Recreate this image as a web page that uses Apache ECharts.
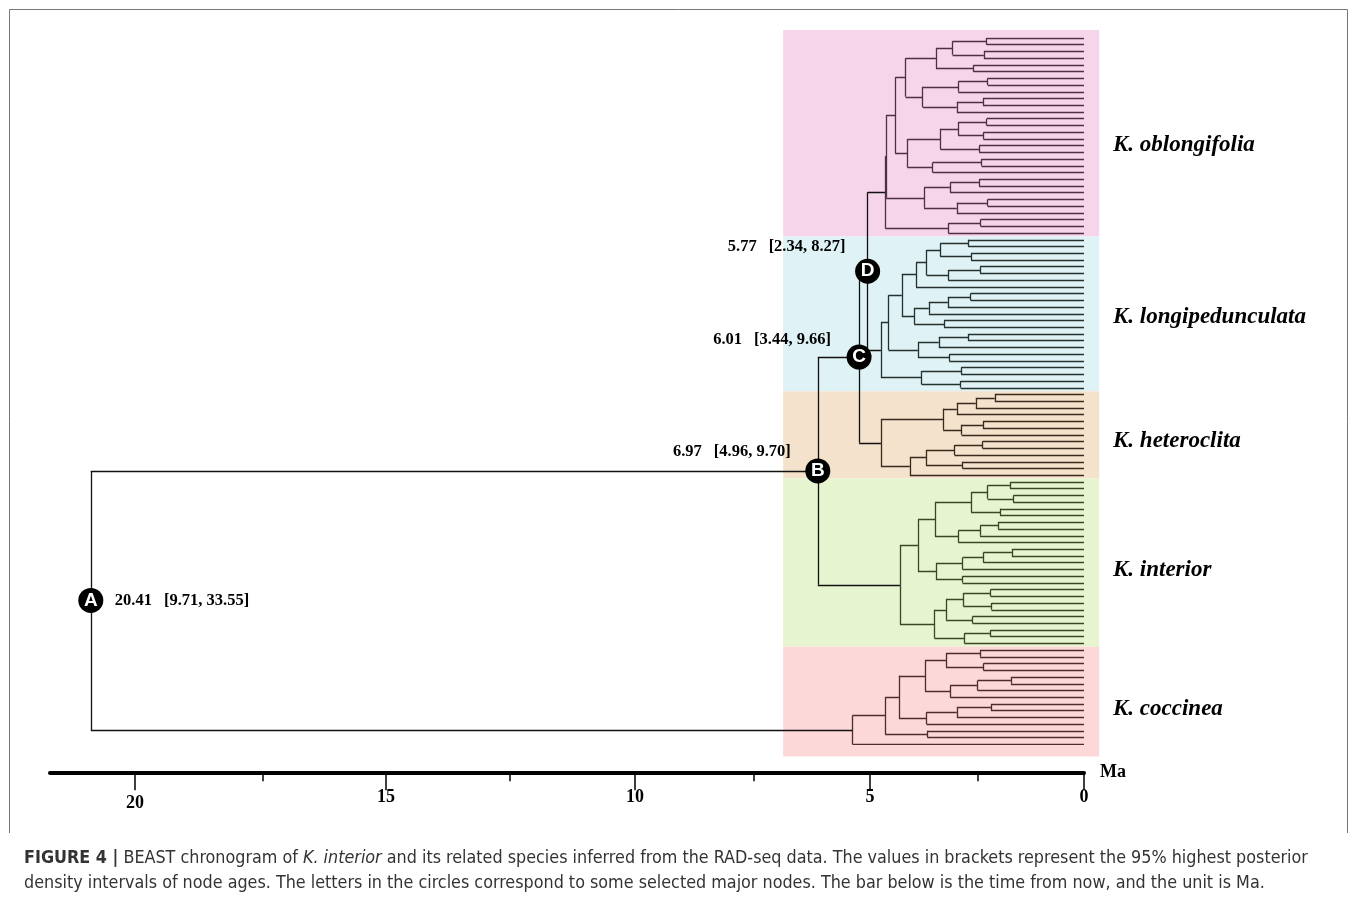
<!DOCTYPE html>
<html><head><meta charset="utf-8">
<script src="https://cdn.jsdelivr.net/npm/echarts@6/dist/echarts.min.js"></script>
<style>html,body{margin:0;padding:0;background:#fff}#c{width:1358px;height:897px}</style>
</head><body><div id="c"></div>
<script>
// ================= DATA =================
const cladeNames = ['K. oblongifolia', 'K. longipedunculata', 'K. heteroclita', 'K. interior', 'K. coccinea'];

// Trees as nested arrays: [nodeAge (Ma), child, child]; a 0 is a tip (age 0)
const oblongifoliaTree =
  [4.19,
    [4.17,
      [3.98,
        [3.76,
          [3.12, [2.77, [2.05, 0, 0], [2.11, 0, 0]], [2.33, 0, 0]],
          [3.40, [2.65, [2.03, 0, 0], 0], [2.68, [2.13, 0, 0], 0]]],
        [3.72,
          [3.03, [2.65, [2.05, 0, 0], [2.12, 0, 0]], [2.21, 0, 0]],
          [3.19, [2.16, 0, 0], 0]]],
      [3.37, [2.82, [2.21, 0, 0], 0], [2.68, [2.03, 0, 0], 0]]],
    [2.86, [2.18, 0, 0], 0]];

const longipedunculataTree =
  [4.28,
    [4.12,
      [3.84,
        [3.54, [3.32, [3.03, [2.44, 0, 0], [2.38, 0, 0]], [2.86, [2.19, 0, 0], 0]], 0],
        [3.58, [3.27, [2.87, [2.39, 0, 0], 0], 0], [2.95, 0, 0]]],
      [3.50, [3.06, [2.44, 0, 0], 0], [2.84, 0, 0]]],
    [3.42, [2.59, 0, 0], [2.60, 0, 0]]];

const heteroclitaTree =
  [4.28,
    [2.97, [2.68, [2.28, [1.88, 0, 0], 0], 0], [2.58, [2.13, 0, 0], 0]],
    [3.67, [3.33, [2.73, [2.14, 0, 0], 0], [2.56, 0, 0]], 0]];

const interiorTree =
  [3.88,
    [3.50,
      [3.14, [2.38, [2.03, [1.56, 0, 0], [1.49, 0, 0]], [1.77, 0, 0]], [2.65, [2.19, [1.81, 0, 0], 0], 0]],
      [3.12, [2.56, [2.12, [1.52, 0, 0], 0], 0], [2.56, 0, 0]]],
    [3.15,
      [2.91, [2.54, [1.97, 0, 0], [1.95, 0, 0]], [2.35, 0, 0]],
      [2.52, [1.97, 0, 0], 0]]];

const coccineaTree =
  [4.88,
    [4.19,
      [3.90,
        [3.35, [2.91, [2.19, 0, 0], [2.12, 0, 0]], [2.82, [2.24, [1.54, 0, 0], 0], 0]],
        [3.32, [2.68, [1.96, 0, 0], 0], 0]],
      [3.30, 0, 0]],
    0];

// Backbone nodes A (root), B, C, D
const backboneLetters = ['A', 'B', 'C', 'D'];
const backboneAges = [20.93, 5.61, 4.74, 4.56];
const nodeAgeLabels = ['20.41', '6.97', '6.01', '5.77'];
const nodeHPDLabels = ['[9.71, 33.55]', '[4.96, 9.70]', '[3.44, 9.66]', '[2.34, 8.27]'];

// Time bar ticks (positions where the figure draws them, in Ma units)
const majorTickValues = [20.0, 14.71, 9.46, 4.51, 0];
const majorTickLabels = ['20', '15', '10', '5', '0'];
const minorTickValues = [17.30, 12.10, 6.95, 2.23];

// ================= STYLE / LAYOUT =================
const bandColors = ['#f6d5ea', '#dff2f5', '#f5e2cd', '#e7f4d0', '#fdd8d8'];
const cladeLineColors = ['#4e2f43', '#26302f', '#382a1d', '#3a4722', '#4f2c2c'];
const cladeLabelDy = [10, 3, 6, 7, 12];
const bandLeftAge = 6.34, bandRightAge = -0.32;
const nodeLabelPlacement = [
  {position: 'right', distance: 24, dy: 0},
  {position: 'left', distance: 27, dy: -19},
  {position: 'left', distance: 28, dy: -17},
  {position: 'left', distance: 22, dy: -24}
];
const serif = '"Liberation Serif", "Times New Roman", serif';
const capFont = '"Liberation Sans Narrow", "DejaVu Sans Condensed", "Roboto", sans-serif';

// ================= LAYOUT OF TREE =================
const clades = [oblongifoliaTree, longipedunculataTree, heteroclitaTree, interiorTree, coccineaTree];
let tip = 0;
function join(age, kids, segs) {
  kids.forEach(k => segs.push([[age, k.y], [k.x, k.y]]));
  const y0 = kids[0].y, y1 = kids[kids.length - 1].y;
  segs.push([[age, y0], [age, y1]]);
  return {x: age, y: (y0 + y1) / 2};
}
function place(node, segs) {
  if (node === 0) return {x: 0, y: tip++};
  return join(node[0], node.slice(1).map(c => place(c, segs)), segs);
}
const cladeSegs = [], cladeRoots = [], cladeSpans = [];
clades.forEach(t => {
  const segs = [];
  const first = tip;
  const r = place(t, segs);
  cladeSegs.push(segs); cladeRoots.push(r); cladeSpans.push([first, tip - 1]);
});
const nTips = tip;
const bbSegs = [];
const nD = join(backboneAges[3], [cladeRoots[0], cladeRoots[1]], bbSegs);
const nC = join(backboneAges[2], [nD, cladeRoots[2]], bbSegs);
const nB = join(backboneAges[1], [nC, cladeRoots[3]], bbSegs);
const nA = join(backboneAges[0], [nB, cladeRoots[4]], bbSegs);
const bbNodes = [nA, nB, nC, nD];

const bandData = cladeSpans.map((s, i) => {
  const top = s[0] - 0.5 - (i === 0 ? 0.7 : 0);
  const bot = s[1] + 0.5 + (i === cladeSpans.length - 1 ? 1.3 : 0);
  return [bandLeftAge, bandRightAge, top, bot, i];
});

const series = [];
series.push({
  type: 'custom', z: 1, clip: false,
  encode: {x: [0, 1], y: [2, 3]},
  data: bandData,
  renderItem: (params, api) => {
    const p0 = api.coord([api.value(0), api.value(2)]);
    const p1 = api.coord([api.value(1), api.value(3)]);
    return {type: 'rect',
      shape: {x: Math.min(p0[0], p1[0]), y: Math.min(p0[1], p1[1]), width: Math.abs(p1[0] - p0[0]), height: Math.abs(p1[1] - p0[1])},
      style: {fill: bandColors[api.value(4)]}};
  }
});
cladeSegs.forEach((segs, i) => {
  series.push({type: 'lines', coordinateSystem: 'cartesian2d', z: 2, polyline: false,
    lineStyle: {color: cladeLineColors[i], width: 1.3, opacity: 1},
    data: segs.map(s => ({coords: s}))});
});
series.push({type: 'lines', coordinateSystem: 'cartesian2d', z: 2, polyline: false,
  lineStyle: {color: '#111', width: 1.3, opacity: 1},
  data: bbSegs.map(s => ({coords: s}))});
series.push({type: 'scatter', z: 4, clip: false, symbol: 'circle', symbolSize: 25,
  itemStyle: {color: '#000', opacity: 1},
  label: {show: true, position: 'inside', color: '#fff', fontFamily: '"Liberation Sans", Arial, sans-serif', fontWeight: 'bold', fontSize: 19,
    formatter: p => backboneLetters[p.dataIndex]},
  data: bbNodes.map(n => [n.x, n.y])});
series.push({type: 'scatter', z: 4, clip: false, symbolSize: 0, itemStyle: {opacity: 1},
  data: bbNodes.map((n, i) => ({value: [n.x, n.y],
    label: {show: true, position: nodeLabelPlacement[i].position, distance: nodeLabelPlacement[i].distance,
      offset: [0, nodeLabelPlacement[i].dy],
      formatter: '{a|' + nodeAgeLabels[i] + '}{b|' + nodeHPDLabels[i] + '}',
      rich: {
        a: {fontFamily: serif, fontWeight: 'bold', fontSize: 16.5, color: '#000'},
        b: {fontFamily: serif, fontWeight: 'bold', fontSize: 16.5, color: '#000', padding: [0, 0, 0, 12]}
      }}}))});
series.push({type: 'scatter', z: 4, clip: false, symbolSize: 0, itemStyle: {opacity: 1},
  data: cladeSpans.map((s, i) => ({value: [0, (s[0] + s[1]) / 2],
    label: {show: true, position: 'right', distance: 29, offset: [0, cladeLabelDy[i]], fontFamily: serif, fontWeight: 'bold', fontStyle: 'italic', fontSize: 23, color: '#000',
      formatter: cladeNames[i]}}))});

function nearestIdx(arr, v) {
  let bi = 0; arr.forEach((a, i) => { if (Math.abs(a - v) < Math.abs(arr[bi] - v)) bi = i; }); return bi;
}

const xMax = 21.79;
const gridBox = {left: 50, right: 274, top: 38, bottom: 152.7};
const option = {
  animation: false,
  backgroundColor: '#fff',
  title: {
    left: 24, top: 846, padding: 0,
    text: '{b|FIGURE 4 |} BEAST chronogram of {i|K. interior} and its related species inferred from the RAD-seq data. The values in brackets represent the 95% highest posterior\ndensity intervals of node ages. The letters in the circles correspond to some selected major nodes. The bar below is the time from now, and the unit is Ma.',
    textStyle: {fontFamily: capFont, fontSize: 17.8, fontWeight: 'normal', color: '#333', lineHeight: 25,
      rich: {
        b: {fontFamily: capFont, fontSize: 17.8, fontWeight: 'bold', color: '#333', lineHeight: 25},
        i: {fontFamily: capFont, fontSize: 17.8, fontStyle: 'italic', color: '#333', lineHeight: 25}
      }}
  },
  graphic: [{type: 'polyline', shape: {points: [[9.5, 833], [9.5, 9.5], [1347.5, 9.5], [1347.5, 833]]},
    style: {stroke: '#777', lineWidth: 1, fill: null}, silent: true}],
  grid: [Object.assign({}, gridBox), Object.assign({}, gridBox)],
  xAxis: [{
    gridIndex: 0, type: 'value', inverse: true, min: 0, max: xMax, position: 'bottom', offset: 28,
    splitLine: {show: false},
    axisLine: {show: true, onZero: false, lineStyle: {color: '#000', width: 4}},
    axisTick: {show: true, customValues: majorTickValues, length: 18, lineStyle: {color: '#000', width: 1.5}},
    axisLabel: {show: true, customValues: majorTickValues, margin: 16, fontFamily: serif, fontWeight: 'bold', fontSize: 18, color: '#000',
      formatter: v => { const i = nearestIdx(majorTickValues, v); return i === 0 ? '{lo|' + majorTickLabels[i] + '}' : majorTickLabels[i]; },
      rich: {lo: {fontFamily: serif, fontWeight: 'bold', fontSize: 18, color: '#000', padding: [6, 0, 0, 0]}}},
    name: 'Ma', nameLocation: 'start', nameGap: 16,
    nameTextStyle: {fontFamily: serif, fontWeight: 'bold', fontSize: 18, color: '#000'}
  }, {
    gridIndex: 1, type: 'value', inverse: true, min: 0, max: xMax, position: 'bottom', offset: 28,
    splitLine: {show: false},
    axisLine: {show: false, onZero: false},
    axisTick: {show: true, customValues: minorTickValues, length: 9, lineStyle: {color: '#000', width: 1.5}},
    axisLabel: {show: false}
  }],
  yAxis: [
    {gridIndex: 0, type: 'value', inverse: true, min: 0, max: nTips - 1, show: false, splitLine: {show: false}},
    {gridIndex: 1, type: 'value', inverse: true, min: 0, max: nTips - 1, show: false, splitLine: {show: false}}
  ],
  series: series
};
const chart = echarts.init(document.getElementById('c'));
chart.setOption(option);
</script>
</body></html>
